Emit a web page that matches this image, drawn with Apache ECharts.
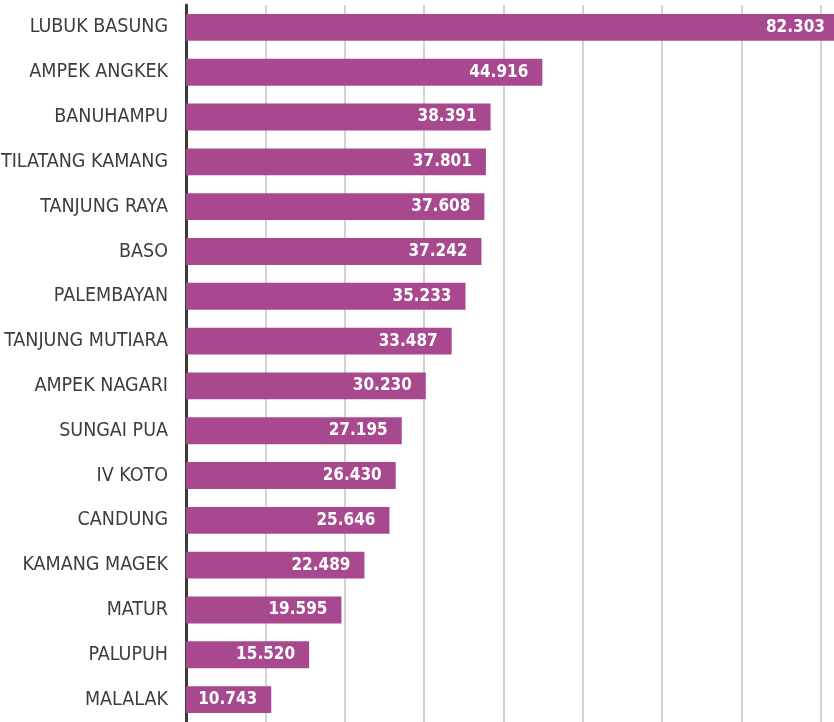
<!DOCTYPE html>
<html>
<head>
<meta charset="utf-8">
<script src="https://cdn.jsdelivr.net/npm/echarts@6/dist/echarts.min.js"></script>
<style>
  html, body { margin: 0; padding: 0; background: #fff; }
  #chart { width: 834px; height: 722px; }
</style>
</head>
<body>
<div id="chart"></div>
<script>
// kecamatan names, top to bottom
const kecamatan = [
  'LUBUK BASUNG', 'AMPEK ANGKEK', 'BANUHAMPU', 'TILATANG KAMANG', 'TANJUNG RAYA',
  'BASO', 'PALEMBAYAN', 'TANJUNG MUTIARA', 'AMPEK NAGARI', 'SUNGAI PUA',
  'IV KOTO', 'CANDUNG', 'KAMANG MAGEK', 'MATUR', 'PALUPUH', 'MALALAK'
]
const nilai = [
  82.303, 44.916, 38.391, 37.801, 37.608,
  37.242, 35.233, 33.487, 30.230, 27.195,
  26.430, 25.646, 22.489, 19.595, 15.520, 10.743
]

const narrow = "'DejaVu Sans Condensed', sans-serif"

let chart = echarts.init(document.getElementById('chart'))

let option = {
  animation: false,
  grid: {
    top: 5,
    bottom: 0,
    left: 186,
    right: -66,
    containLabel: false,
    outerBoundsMode: 'none',
  },
  xAxis: {
    type: 'value',
    min: 0,
    max: 90,
    interval: 10,
    axisLine: { show: false },
    axisTick: { show: false },
    axisLabel: { show: false },
    splitLine: {
      show: true,
      lineStyle: { color: '#c4c4c4', width: 1.5 },
    },
  },
  yAxis: {
    type: 'category',
    data: kecamatan,
    inverse: true,
    axisLine: {
      show: true,
      lineStyle: { color: '#3a3a3a', width: 3 },
    },
    axisTick: { show: false },
    axisLabel: {
      margin: 18,
      color: '#3d3d3d',
      fontSize: 19.5,
      fontFamily: narrow,
    },
  },
  series: [
    {
      type: 'bar',
      data: nilai,
      barWidth: '60%',
      itemStyle: { color: '#a8498f' },
      label: {
        show: true,
        position: 'insideRight',
        distance: 14,
        color: '#fff',
        fontSize: 17,
        fontWeight: 'bold',
        fontFamily: narrow,
        formatter: (p) => p.value.toFixed(3),
      },
    },
  ],
}
chart.setOption(option)
</script>
</body>
</html>
